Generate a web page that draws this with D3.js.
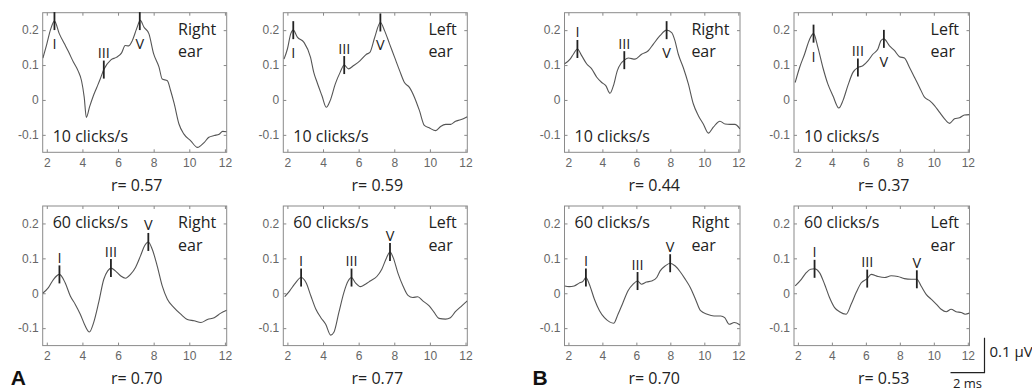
<!DOCTYPE html>
<html>
<head>
<meta charset="utf-8">
<script src="https://cdn.jsdelivr.net/npm/d3@7"></script>
<style>
body { margin: 0; background: #fff; }
text { font-family: "Open Sans", sans-serif; }
.tick text { font-family: "Liberation Sans", Arial, sans-serif; font-size: 12px; fill: #666; }
.tick line { stroke: #888; }
</style>
</head>
<body>
<div id="graph"></div>
<script>
// ABR waveforms (latency ms, amplitude uV)
var aRight10 = [[1.78,0.12],[2.0,0.16],[2.2,0.2],[2.43,0.226],[2.7,0.19],[3.0,0.16],[3.2,0.14],[3.5,0.108],[3.75,0.084],[3.95,0.055],[4.1,0.008],[4.22,-0.05],[4.4,-0.02],[4.6,0.01],[4.8,0.035],[5.0,0.06],[5.2,0.087],[5.6,0.115],[5.9,0.122],[6.2,0.135],[6.4,0.156],[6.6,0.155],[6.8,0.17],[7.05,0.205],[7.25,0.228],[7.45,0.209],[7.73,0.19],[8.0,0.132],[8.3,0.094],[8.48,0.06],[8.77,0.055],[8.95,0.027],[9.15,-0.01],[9.42,-0.069],[9.7,-0.098],[10.08,-0.117],[10.46,-0.136],[10.83,-0.122],[11.1,-0.107],[11.4,-0.102],[11.68,-0.098],[11.87,-0.09],[12.1,-0.091]];
var aLeft10 = [[1.81,0.117],[2.0,0.146],[2.19,0.19],[2.33,0.2],[2.56,0.18],[2.93,0.165],[3.3,0.122],[3.48,0.079],[3.67,0.05],[3.94,0.012],[4.18,-0.021],[4.4,-0.002],[4.69,0.046],[4.96,0.079],[5.19,0.1],[5.43,0.089],[5.7,0.098],[6.07,0.112],[6.44,0.131],[6.63,0.136],[6.9,0.179],[7.22,0.222],[7.46,0.198],[7.74,0.16],[8.02,0.122],[8.3,0.084],[8.57,0.05],[8.85,0.036],[9.13,0.008],[9.41,-0.03],[9.69,-0.073],[9.96,-0.08],[10.33,-0.088],[10.6,-0.076],[10.89,-0.07],[11.17,-0.07],[11.44,-0.061],[11.72,-0.057],[12.1,-0.048]];
var aRight60 = [[1.77,0.0],[2.09,0.016],[2.38,0.04],[2.71,0.054],[3.03,0.03],[3.32,-0.008],[3.6,-0.032],[3.88,-0.06],[4.16,-0.094],[4.39,-0.111],[4.63,-0.084],[4.91,-0.027],[5.2,0.04],[5.42,0.064],[5.61,0.072],[5.85,0.064],[6.14,0.05],[6.42,0.043],[6.7,0.054],[6.98,0.074],[7.26,0.107],[7.49,0.136],[7.7,0.147],[7.92,0.126],[8.2,0.078],[8.48,0.021],[8.77,-0.017],[9.14,-0.041],[9.52,-0.06],[9.89,-0.075],[10.27,-0.079],[10.65,-0.084],[11.02,-0.075],[11.4,-0.07],[11.77,-0.057],[12.1,-0.049]];
var aLeft60 = [[1.85,-0.01],[2.13,0.007],[2.4,0.026],[2.77,0.045],[3.05,0.03],[3.32,-0.008],[3.6,-0.046],[3.88,-0.07],[4.15,-0.089],[4.43,-0.12],[4.61,-0.112],[4.89,-0.055],[5.17,0.002],[5.41,0.035],[5.6,0.045],[5.82,0.03],[6.1,0.019],[6.38,0.026],[6.65,0.035],[7.02,0.048],[7.3,0.069],[7.57,0.102],[7.76,0.118],[7.94,0.102],[8.21,0.057],[8.49,0.021],[8.77,-0.006],[9.04,-0.012],[9.32,-0.01],[9.6,-0.022],[9.96,-0.036],[10.24,-0.055],[10.51,-0.072],[10.88,-0.074],[11.15,-0.07],[11.43,-0.053],[11.79,-0.036],[12.1,-0.022]];
var bRight10 = [[1.76,0.103],[2.1,0.117],[2.29,0.131],[2.53,0.146],[2.78,0.127],[3.08,0.103],[3.37,0.089],[3.67,0.065],[3.96,0.05],[4.2,0.041],[4.45,0.019],[4.65,0.041],[4.88,0.084],[5.1,0.105],[5.29,0.114],[5.53,0.12],[5.92,0.117],[6.31,0.131],[6.7,0.141],[7.0,0.16],[7.39,0.184],[7.78,0.2],[8.08,0.193],[8.27,0.17],[8.47,0.131],[8.76,0.093],[9.06,0.046],[9.35,-0.011],[9.65,-0.045],[9.94,-0.069],[10.24,-0.095],[10.53,-0.078],[10.92,-0.061],[11.22,-0.069],[11.51,-0.07],[11.8,-0.07],[12.1,-0.083]];
var bLeft10 = [[1.84,0.05],[2.1,0.093],[2.39,0.131],[2.69,0.174],[2.92,0.19],[3.18,0.15],[3.47,0.093],[3.76,0.046],[4.06,0.012],[4.41,-0.023],[4.65,-0.002],[4.94,0.041],[5.24,0.079],[5.53,0.093],[5.82,0.098],[6.12,0.112],[6.41,0.131],[6.71,0.146],[6.9,0.171],[7.06,0.175],[7.39,0.155],[7.69,0.141],[7.98,0.124],[8.27,0.12],[8.57,0.093],[8.86,0.065],[9.16,0.036],[9.45,0.008],[9.75,-0.002],[10.04,-0.016],[10.33,-0.035],[10.63,-0.054],[10.92,-0.067],[11.22,-0.054],[11.51,-0.051],[11.8,-0.043],[12.1,-0.042]];
var bRight60 = [[1.78,0.021],[2.04,0.019],[2.34,0.021],[2.63,0.029],[2.87,0.035],[3.03,0.045],[3.23,0.026],[3.53,-0.017],[3.83,-0.05],[4.12,-0.07],[4.42,-0.082],[4.66,-0.086],[4.92,-0.06],[5.21,-0.027],[5.51,0.007],[5.81,0.026],[6.07,0.035],[6.3,0.026],[6.6,0.032],[6.9,0.035],[7.2,0.045],[7.4,0.064],[7.69,0.078],[7.99,0.086],[8.29,0.078],[8.59,0.061],[8.88,0.04],[9.18,0.016],[9.48,-0.017],[9.78,-0.05],[10.17,-0.06],[10.57,-0.065],[10.97,-0.065],[11.2,-0.07],[11.46,-0.089],[11.76,-0.084],[12.1,-0.091]];
var bLeft60 = [[1.84,0.021],[2.2,0.04],[2.49,0.059],[2.75,0.069],[2.98,0.07],[3.27,0.059],[3.57,0.026],[3.86,-0.012],[4.16,-0.041],[4.45,-0.053],[4.84,-0.06],[5.14,-0.031],[5.43,0.002],[5.73,0.03],[6.08,0.042],[6.31,0.054],[6.71,0.048],[7.1,0.045],[7.49,0.05],[7.88,0.048],[8.27,0.042],[8.67,0.04],[9.0,0.04],[9.25,0.021],[9.55,-0.003],[9.84,-0.017],[10.14,-0.031],[10.43,-0.046],[10.73,-0.053],[11.02,-0.046],[11.31,-0.053],[11.61,-0.055],[11.84,-0.06],[12.1,-0.057]];

// peak marks: [label, latency, amplitude, label side]
var aRight10Peaks = [["I",2.43,0.226,"below"],["III",5.2,0.087,"above"],["V",7.22,0.226,"below"]];
var aLeft10Peaks  = [["I",2.33,0.2,"below"],["III",5.19,0.1,"above"],["V",7.22,0.222,"below"]];
var aRight60Peaks = [["I",2.71,0.054,"above"],["III",5.6,0.072,"above"],["V",7.7,0.147,"above"]];
var aLeft60Peaks  = [["I",2.77,0.045,"above"],["III",5.6,0.045,"above"],["V",7.76,0.118,"above"]];
var bRight10Peaks = [["I",2.53,0.146,"above"],["III",5.29,0.114,"above"],["V",7.78,0.2,"below"]];
var bLeft10Peaks  = [["I",2.92,0.19,"below"],["III",5.53,0.093,"above"],["V",7.06,0.175,"below"]];
var bRight60Peaks = [["I",3.03,0.045,"above"],["III",6.07,0.035,"above"],["V",7.99,0.086,"above"]];
var bLeft60Peaks  = [["I",2.98,0.07,"above"],["III",6.08,0.042,"above"],["V",9.0,0.04,"above"]];

var xTicks = [2, 4, 6, 8, 10, 12];
var yTicks = [-0.1, 0, 0.1, 0.2];
var yTickLabels = ["-0.1", "0", "0.1", "0.2"];

var panels = [
    {group:"A", col:0, row:0, curve:aRight10, peaks:aRight10Peaks, rate:"10 clicks/s", ear:"Right", r:"0.57"},
    {group:"A", col:1, row:0, curve:aLeft10,  peaks:aLeft10Peaks,  rate:"10 clicks/s", ear:"Left",  r:"0.59"},
    {group:"A", col:0, row:1, curve:aRight60, peaks:aRight60Peaks, rate:"60 clicks/s", ear:"Right", r:"0.70"},
    {group:"A", col:1, row:1, curve:aLeft60,  peaks:aLeft60Peaks,  rate:"60 clicks/s", ear:"Left",  r:"0.77"},
    {group:"B", col:2, row:0, curve:bRight10, peaks:bRight10Peaks, rate:"10 clicks/s", ear:"Right", r:"0.44"},
    {group:"B", col:3, row:0, curve:bLeft10,  peaks:bLeft10Peaks,  rate:"10 clicks/s", ear:"Left",  r:"0.37"},
    {group:"B", col:2, row:1, curve:bRight60, peaks:bRight60Peaks, rate:"60 clicks/s", ear:"Right", r:"0.70"},
    {group:"B", col:3, row:1, curve:bLeft60,  peaks:bLeft60Peaks,  rate:"60 clicks/s", ear:"Left",  r:"0.53"}
];

var colLeft = [42.7, 283.3, 564.5, 794];
var colWidth = [184, 184, 175.5, 175.5];
var rowTop = [12.7, 206];
var plotH = 139.6;

var svg = d3.select('#graph')
    .append('svg')
    .attr("width", 1032)
    .attr("height", 391);

svg.append("rect").attr("width", 1032).attr("height", 391).attr("fill", "#fff");

panels.forEach(function(p, i) {
    var w = colWidth[p.col], h = plotH;
    var g = svg.append("g")
        .attr("transform", "translate(" + colLeft[p.col] + "," + rowTop[p.row] + ")");

    var x = d3.scaleLinear().domain([1.77, 12.1]).range([0, w]);
    var y = d3.scaleLinear().domain([-0.15, 0.25]).range([h, 0]);

    // axes, ticks pointing inwards on all four sides
    g.append("g")
        .attr("transform", "translate(0," + h + ")")
        .call(d3.axisBottom(x).tickValues(xTicks).tickSizeInner(-3).tickSizeOuter(0).tickPadding(6))
        .call(function(a) { a.select(".domain").remove(); });
    g.append("g")
        .call(d3.axisLeft(y).tickValues(yTicks).tickSizeInner(-3).tickSizeOuter(0).tickPadding(4)
            .tickFormat(function(d, k) { return yTickLabels[k]; }))
        .call(function(a) { a.select(".domain").remove(); });
    g.append("g")
        .call(d3.axisTop(x).tickValues(xTicks).tickSizeInner(-3).tickSizeOuter(0).tickFormat(""))
        .call(function(a) { a.select(".domain").remove(); });
    g.append("g")
        .attr("transform", "translate(" + w + ",0)")
        .call(d3.axisRight(y).tickValues(yTicks).tickSizeInner(-3).tickSizeOuter(0).tickFormat(""))
        .call(function(a) { a.select(".domain").remove(); });

    g.append("rect")
        .attr("width", w).attr("height", h)
        .attr("fill", "none").attr("stroke", "#8a8a8a").attr("stroke-width", 1);

    g.append("clipPath").attr("id", "clip" + i)
        .append("rect").attr("width", w).attr("height", h);

    // waveform
    g.append("path")
        .datum(p.curve)
        .attr("clip-path", "url(#clip" + i + ")")
        .attr("fill", "none")
        .attr("stroke", "#555")
        .attr("stroke-width", 1.1)
        .attr("d", d3.line()
            .curve(d3.curveMonotoneX)
            .x(function(d) { return x(d[0]); })
            .y(function(d) { return y(d[1]); }));

    // peak markers
    g.selectAll(".peak")
        .data(p.peaks)
        .enter().append("line")
        .attr("x1", function(d) { return x(d[1]); })
        .attr("x2", function(d) { return x(d[1]); })
        .attr("y1", function(d) { return y(d[2]) - 9; })
        .attr("y2", function(d) { return y(d[2]) + 9; })
        .attr("stroke", "#222")
        .attr("stroke-width", 1.8);

    g.selectAll(".peak-label")
        .data(p.peaks)
        .enter().append("text")
        .attr("x", function(d) { return x(d[1]); })
        .attr("y", function(d) { return d[3] == "above" ? y(d[2]) - 11.5 : y(d[2]) + 28; })
        .attr("text-anchor", "middle")
        .attr("font-size", 14.5)
        .attr("fill", "#222")
        .text(function(d) { return d[0]; });

    // click rate
    g.append("text")
        .attr("x", 10)
        .attr("y", p.row == 0 ? h - 10.5 : 22)
        .attr("font-size", 16)
        .attr("fill", "#222")
        .text(p.rate);

    // ear, two lines
    var earText = g.append("text")
        .attr("x", w - 10.5)
        .attr("y", 22)
        .attr("text-anchor", "end")
        .attr("font-size", 16)
        .attr("fill", "#222")
        .text(p.ear);
    var bx = earText.node().getBBox().x;
    g.append("text")
        .attr("x", bx)
        .attr("y", 44.5)
        .attr("font-size", 16)
        .attr("fill", "#222")
        .text("ear");

    // correlation
    g.append("text")
        .attr("x", w / 2 + 2)
        .attr("y", h + 38.5)
        .attr("text-anchor", "middle")
        .attr("font-size", 16)
        .attr("fill", "#222")
        .text("r= " + p.r);

    // group letter
    if (p.row == 1 && (p.col == 0 || p.col == 2)) {
        g.append("text")
            .attr("x", -32)
            .attr("y", h + 39.5)
            .style("font-family", "'Liberation Sans', Arial, sans-serif")
            .attr("font-weight", "bold")
            .attr("font-size", 21)
            .attr("fill", "#111")
            .text(p.group);
    }

    // scale bar next to the last panel
    if (i == panels.length - 1) {
        var sx = w + 15, sy = h + 27;
        var barH = y(0) - y(0.1), barW = x(4) - x(2);
        g.append("path")
            .attr("d", "M" + sx + "," + (sy - barH) + "V" + sy + "H" + (sx - barW))
            .attr("fill", "none")
            .attr("stroke", "#222")
            .attr("stroke-width", 1.2);
        g.append("text")
            .attr("x", sx + 5)
            .attr("y", sy - 15.5)
            .attr("font-size", 15)
            .attr("fill", "#222")
            .text("0.1 \u00b5V");
        g.append("text")
            .attr("x", sx - barW / 2)
            .attr("y", sy + 15.5)
            .attr("text-anchor", "middle")
            .attr("font-size", 13)
            .attr("fill", "#222")
            .text("2 ms");
    }
});
</script>
</body>
</html>
